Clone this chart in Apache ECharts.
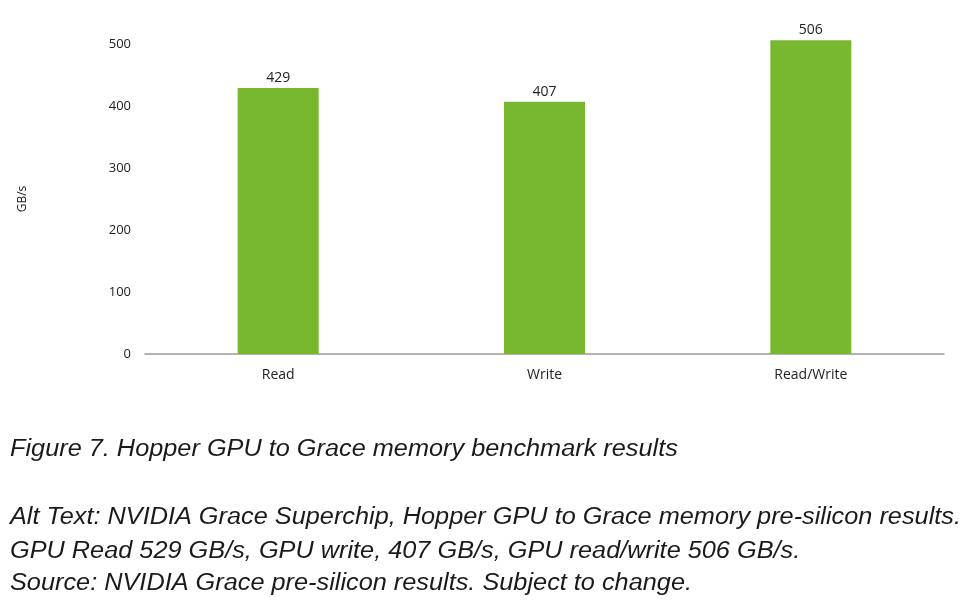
<!DOCTYPE html>
<html>
<head>
<meta charset="utf-8">
<script src="https://cdn.jsdelivr.net/npm/echarts@6/dist/echarts.min.js"></script>
<style>
  html, body { margin: 0; padding: 0; background: #fff; }
  #chart { width: 970px; height: 605px; }
</style>
</head>
<body>
<div id="chart"></div>
<script>
const categories = ['Read', 'Write', 'Read/Write'];
const bandwidth = [429, 407, 506];
const captionLines = [
  'Figure 7. Hopper GPU to Grace memory benchmark results',
  'Alt Text: NVIDIA Grace Superchip, Hopper GPU to Grace memory pre-silicon results.',
  'GPU Read 529 GB/s, GPU write, 407 GB/s, GPU read/write 506 GB/s.',
  'Source: NVIDIA Grace pre-silicon results. Subject to change.'
];
const captionY = [450, 518, 552, 584];

const myChart = echarts.init(document.getElementById('chart'));

const labelFont = '"Open Sans", sans-serif';
const captionStyle = {
  fill: '#1a1a1a',
  font: 'italic 23px "Liberation Sans", Arial, sans-serif',
  textVerticalAlign: 'middle'
};

myChart.setOption({
  animation: false,
  grid: {
    left: 145,
    right: 26,
    top: 44,
    bottom: 251
  },
  xAxis: {
    type: 'category',
    data: categories,
    axisTick: { show: false },
    axisLine: {
      lineStyle: { color: '#9a9a9a', width: 1.5 }
    },
    axisLabel: {
      color: '#222',
      fontSize: 14,
      fontFamily: labelFont,
      margin: 14
    }
  },
  yAxis: {
    type: 'value',
    min: 0,
    max: 500,
    interval: 100,
    name: 'GB/s',
    nameLocation: 'middle',
    nameRotate: 90,
    nameGap: 116,
    nameTextStyle: {
      color: '#222',
      fontSize: 12,
      fontFamily: labelFont
    },
    splitLine: { show: false },
    axisLine: { show: false },
    axisTick: { show: false },
    axisLabel: {
      color: '#222',
      fontSize: 13,
      fontFamily: labelFont,
      margin: 14
    }
  },
  series: [{
    type: 'bar',
    data: bandwidth,
    barWidth: 81,
    clip: false,
    itemStyle: { color: '#77b82e' },
    label: {
      show: true,
      position: 'top',
      distance: 3,
      color: '#222',
      fontSize: 14,
      fontFamily: labelFont
    }
  }],
  graphic: captionLines.map((line, i) => ({
    type: 'text',
    x: 10,
    y: captionY[i],
    scaleX: 1.1,
    style: Object.assign({ text: line }, captionStyle)
  }))
});
</script>
</body>
</html>
